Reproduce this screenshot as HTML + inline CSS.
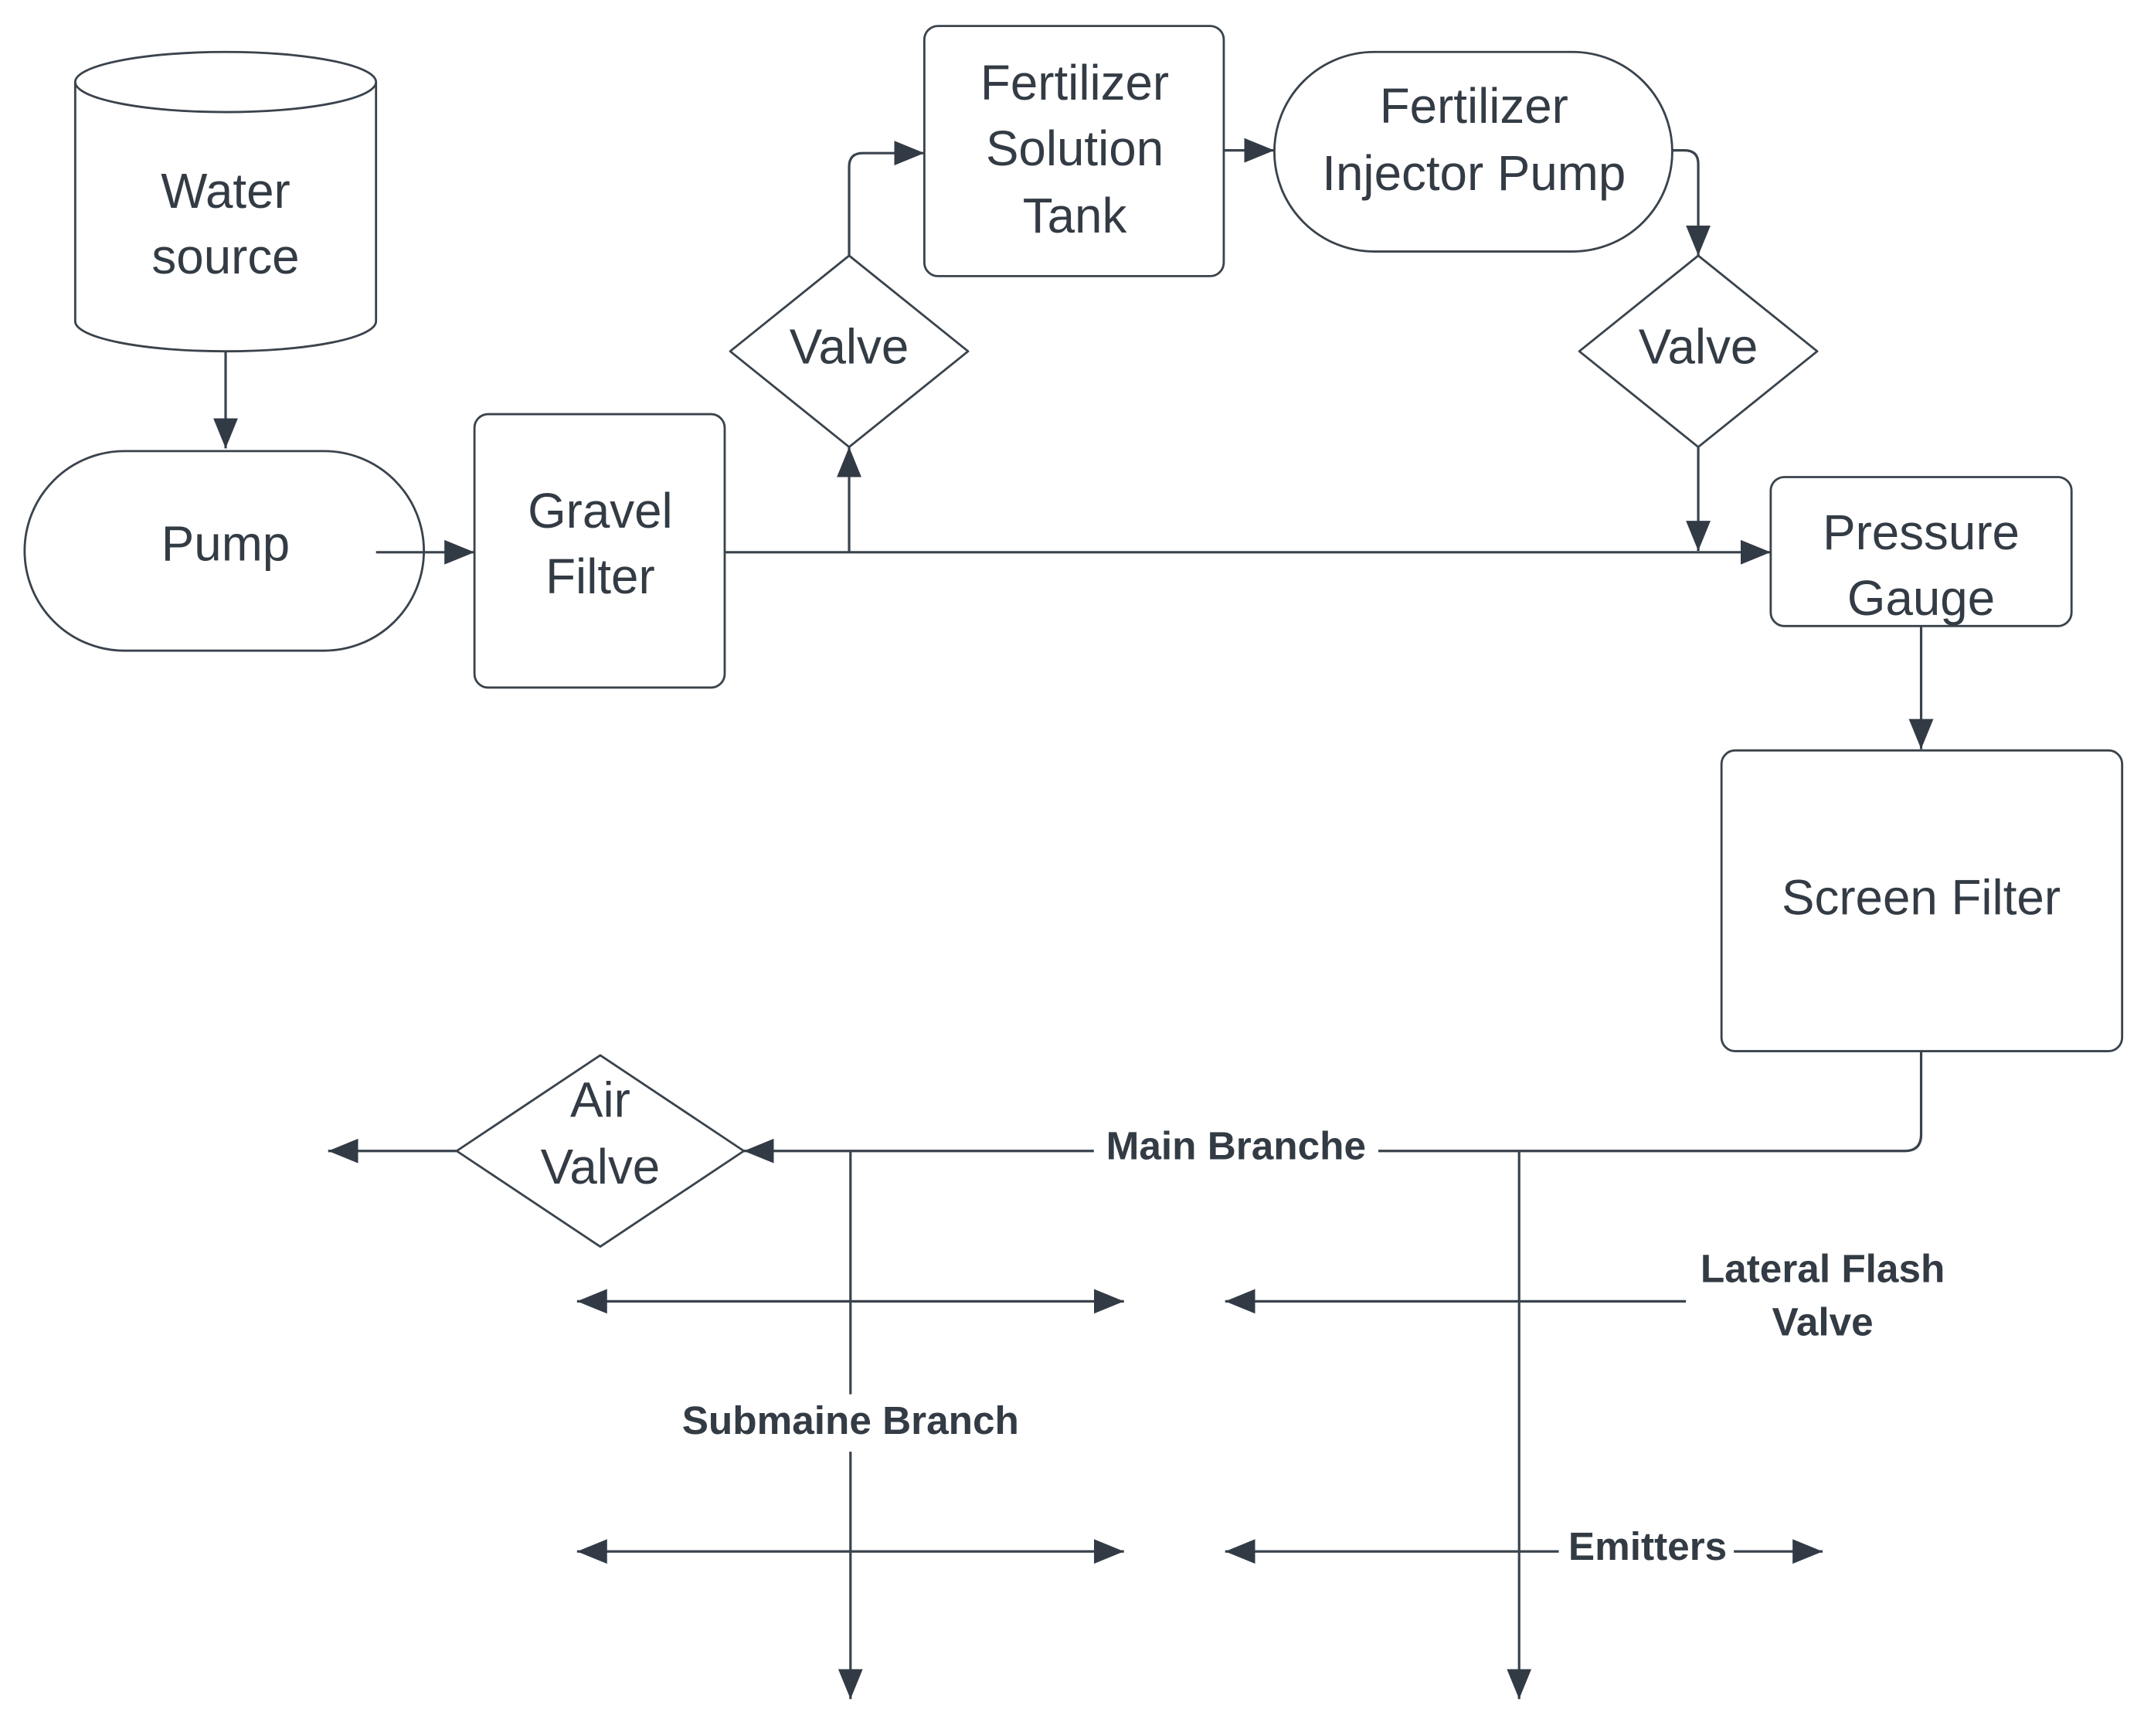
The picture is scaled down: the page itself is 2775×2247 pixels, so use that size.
<!DOCTYPE html>
<html><head><style>html,body{margin:0;padding:0;background:#fff}svg{display:block}</style></head><body>
<svg width="2775" height="2247" viewBox="0 0 1568 1270" preserveAspectRatio="none" xmlns="http://www.w3.org/2000/svg">
<defs>
<marker id="a" viewBox="0 0 22 18" refX="22" refY="9" markerWidth="22" markerHeight="18" markerUnits="userSpaceOnUse" orient="auto">
<path d="M0,0 L22,9 L0,18 Z" fill="#323b45"/></marker>
</defs>
<g fill="#fff" stroke="#3a434c" stroke-width="1.6">
<path d="M55,60 L55,235 A110,22 0 0 0 275,235 L275,60"/>
<ellipse cx="165" cy="60" rx="110" ry="22"/>
<rect x="18" y="330" width="292" height="146" rx="73"/>
<rect x="347" y="303" width="183" height="200" rx="10"/>
<rect x="676" y="19" width="219" height="183" rx="10"/>
<rect x="932" y="38" width="291" height="146" rx="73"/>
<rect x="1295" y="349" width="220" height="109" rx="10"/>
<rect x="1259" y="549" width="293" height="220" rx="10"/>
<path d="M621,187 L708,257 L621,327 L534,257 Z" stroke-linejoin="round"/>
<path d="M1242,187 L1329,257 L1242,327 L1155,257 Z" stroke-linejoin="round"/>
<path d="M439,772 L544,842 L439,912 L334,842 Z" stroke-linejoin="round"/>
</g>
<g fill="none" stroke="#3a434c" stroke-width="1.8">
<path d="M165,257 L165,328" marker-end="url(#a)"/>
<path d="M275,404 L347,404" marker-end="url(#a)"/>
<path d="M530,404 L1295,404" marker-end="url(#a)"/>
<path d="M621,404 L621,327" marker-end="url(#a)"/>
<path d="M621,187 L621,122 Q621,112 631,112 L676,112" marker-end="url(#a)"/>
<path d="M895,110 L932,110" marker-end="url(#a)"/>
<path d="M1223,110 L1232,110 Q1242,110 1242,120 L1242,187" marker-end="url(#a)"/>
<path d="M1242,327 L1242,403" marker-end="url(#a)"/>
<path d="M1405,458 L1405,548" marker-end="url(#a)"/>
<path d="M1405,769 L1405,830 Q1405,842 1393,842 L544,842" marker-end="url(#a)"/>
<path d="M334,842 L240,842" marker-end="url(#a)"/>
<path d="M622,842 L622,1243" marker-end="url(#a)"/>
<path d="M1111,842 L1111,1243" marker-end="url(#a)"/>
<path d="M622,952 L422,952" marker-end="url(#a)"/>
<path d="M622,952 L822,952" marker-end="url(#a)"/>
<path d="M1233,952 L896,952" marker-end="url(#a)"/>
<path d="M622,1135 L422,1135" marker-end="url(#a)"/>
<path d="M622,1135 L822,1135" marker-end="url(#a)"/>
<path d="M1140,1135 L896,1135" marker-end="url(#a)"/>
<path d="M1268,1135 L1333,1135" marker-end="url(#a)"/>
</g>
<rect x="800" y="822" width="208" height="32" fill="#fff"/>
<rect x="484" y="1020" width="276" height="42" fill="#fff"/>
<rect x="1142" y="1118" width="126" height="30" fill="#fff"/>
<g font-family="Liberation Sans, sans-serif" font-size="36" fill="#333b44" text-anchor="middle">
<text x="165" y="152">Water</text><text x="165" y="200">source</text>
<text x="165" y="410">Pump</text>
<text x="439" y="386">Gravel</text><text x="439" y="434">Filter</text>
<text x="621" y="266">Valve</text>
<text x="786" y="73">Fertilizer</text><text x="786" y="121">Solution</text><text x="786" y="170">Tank</text>
<text x="1078" y="90">Fertilizer</text><text x="1078" y="139">Injector Pump</text>
<text x="1242" y="266">Valve</text>
<text x="1405" y="402">Pressure</text><text x="1405" y="450">Gauge</text>
<text x="1405" y="669">Screen Filter</text>
<text x="439" y="817">Air</text><text x="439" y="866">Valve</text>
</g>
<g font-family="Liberation Sans, sans-serif" font-size="29" font-weight="bold" fill="#333b44" text-anchor="middle">
<text x="904" y="848">Main Branche</text>
<text x="622" y="1049">Submaine Branch</text>
<text x="1333" y="938">Lateral Flash</text><text x="1333" y="977">Valve</text>
<text x="1205" y="1141">Emitters</text>
</g>
</svg>
</body></html>
